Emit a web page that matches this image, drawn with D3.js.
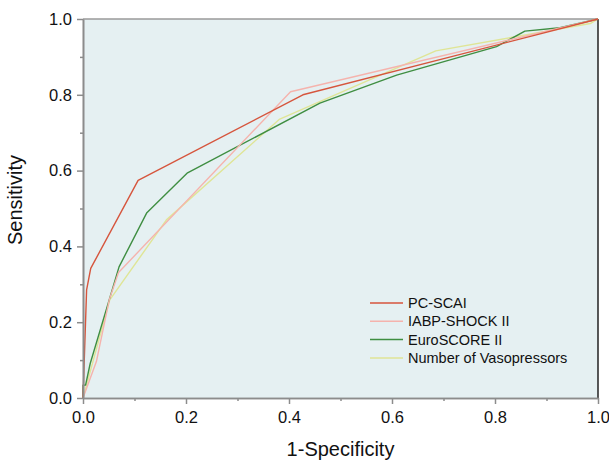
<!DOCTYPE html>
<html>
<head>
<meta charset="utf-8">
<script src="https://cdn.jsdelivr.net/npm/d3@7"></script>
<style>
  body { margin: 0; background: #fff; }
  svg { display: block; font-family: "Liberation Sans", Arial, sans-serif; }
</style>
</head>
<body>
<svg id="chart" width="609" height="461"></svg>
<script>

// ROC curves: [1-specificity, sensitivity]
var pcScai = [
    [0, 0], [0.007, 0.285], [0.015, 0.342], [0.107, 0.574],
    [0.427, 0.800], [1, 1]
];
var iabpShock = [
    [0, 0], [0.026, 0.096], [0.051, 0.259], [0.069, 0.331],
    [0.403, 0.808], [1, 1]
];
var euroScore = [
    [0, 0], [0, 0.034], [0.005, 0.034], [0.014, 0.091], [0.070, 0.346],
    [0.124, 0.489], [0.203, 0.594], [0.46, 0.778], [0.609, 0.852],
    [0.803, 0.927], [0.858, 0.968], [0.926, 0.977], [1, 1]
];
var vasopressors = [
    [0, 0], [0.052, 0.259], [0.162, 0.470], [0.381, 0.735],
    [0.685, 0.916], [0.985, 0.988], [1, 1]
];

var seriesNames = ['PC-SCAI', 'IABP-SHOCK II', 'EuroSCORE II', 'Number of Vasopressors'];
var seriesColors = ['#d6553d', '#f5b3ad', '#3f8e42', '#dfe596'];
var tickValues = [0, 0.2, 0.4, 0.6, 0.8, 1.0];
var minorTicks = [0.1, 0.3, 0.5, 0.7, 0.9];

var svg = d3.select('#chart');
var margin = {left: 83, top: 19, right: 11, bottom: 63};
var width = 609 - margin.left - margin.right,
    height = 461 - margin.top - margin.bottom;

var x = d3.scaleLinear().domain([0, 1]).range([0, width]);
var y = d3.scaleLinear().domain([0, 1]).range([height, 0]);

var g = svg.append('g')
    .attr('transform', 'translate(' + margin.left + ',' + margin.top + ')');

// plot background
g.append('rect')
    .attr('width', width)
    .attr('height', height)
    .attr('fill', '#e5f0f2');

// top and right frame
g.append('line')
    .attr('x1', 0).attr('x2', width).attr('y1', 0).attr('y2', 0)
    .attr('stroke', '#9a9a9a').attr('stroke-width', 1.5);
g.append('line')
    .attr('x1', width).attr('x2', width).attr('y1', 0).attr('y2', height)
    .attr('stroke', '#222').attr('stroke-width', 1.5);

var series = [pcScai, iabpShock, euroScore, vasopressors];
var line = d3.line()
    .x(function(d) { return x(d[0]); })
    .y(function(d) { return y(d[1]); });

// draw back to front so PC-SCAI sits on top like the original
[3, 2, 1, 0].forEach(function(i) {
    g.append('path')
        .datum(series[i])
        .attr('d', line)
        .attr('fill', 'none')
        .attr('stroke', seriesColors[i])
        .attr('stroke-width', 1.4)
        .attr('stroke-linejoin', 'round');
});

// axes
var xAxis = g.append('g')
    .attr('transform', 'translate(0,' + height + ')')
    .call(d3.axisBottom(x).tickValues(tickValues).tickFormat(d3.format('.1f'))
        .tickSize(6).tickSizeOuter(0).tickPadding(7));
var xMinor = g.append('g')
    .attr('transform', 'translate(0,' + height + ')')
    .call(d3.axisBottom(x).tickValues(minorTicks).tickFormat('').tickSize(3).tickSizeOuter(0));

var yAxis = g.append('g')
    .call(d3.axisLeft(y).tickValues(tickValues).tickFormat(d3.format('.1f'))
        .tickSize(6).tickSizeOuter(0).tickPadding(5));
var yMinor = g.append('g')
    .call(d3.axisLeft(y).tickValues(minorTicks).tickFormat('').tickSize(3).tickSizeOuter(0));

[xAxis, xMinor, yAxis, yMinor].forEach(function(a) {
    a.select('.domain').attr('stroke', '#8c8c8c').attr('stroke-width', 1.6);
    a.selectAll('.tick line').attr('stroke', '#8c8c8c').attr('stroke-width', 1.5);
    a.selectAll('text')
        .attr('font-family', '"Liberation Sans", Arial, sans-serif')
        .attr('font-size', 16.5)
        .attr('fill', '#111');
});

// axis titles
svg.append('text')
    .attr('x', margin.left + width / 2)
    .attr('y', 456)
    .attr('text-anchor', 'middle')
    .attr('font-size', 20)
    .attr('fill', '#111')
    .text('1-Specificity');

svg.append('text')
    .attr('transform', 'translate(22,200) rotate(-90)')
    .attr('text-anchor', 'middle')
    .attr('font-size', 20)
    .attr('fill', '#111')
    .text('Sensitivity');

// legend
var legend = g.append('g')
    .attr('transform', 'translate(' + (370 - margin.left) + ',' + (303 - margin.top) + ')');

var items = legend.selectAll('g.item')
    .data(seriesNames)
    .enter()
    .append('g')
    .attr('class', 'item')
    .attr('transform', function(d, i) { return 'translate(0,' + i * 18.3 + ')'; });

items.append('line')
    .attr('x1', 0).attr('x2', 33)
    .attr('stroke', function(d, i) { return seriesColors[i]; })
    .attr('stroke-width', 1.5);

items.append('text')
    .attr('x', 38)
    .attr('dy', '0.35em')
    .attr('font-size', 14.5)
    .attr('fill', '#111')
    .text(function(d) { return d; });

</script>
</body>
</html>
